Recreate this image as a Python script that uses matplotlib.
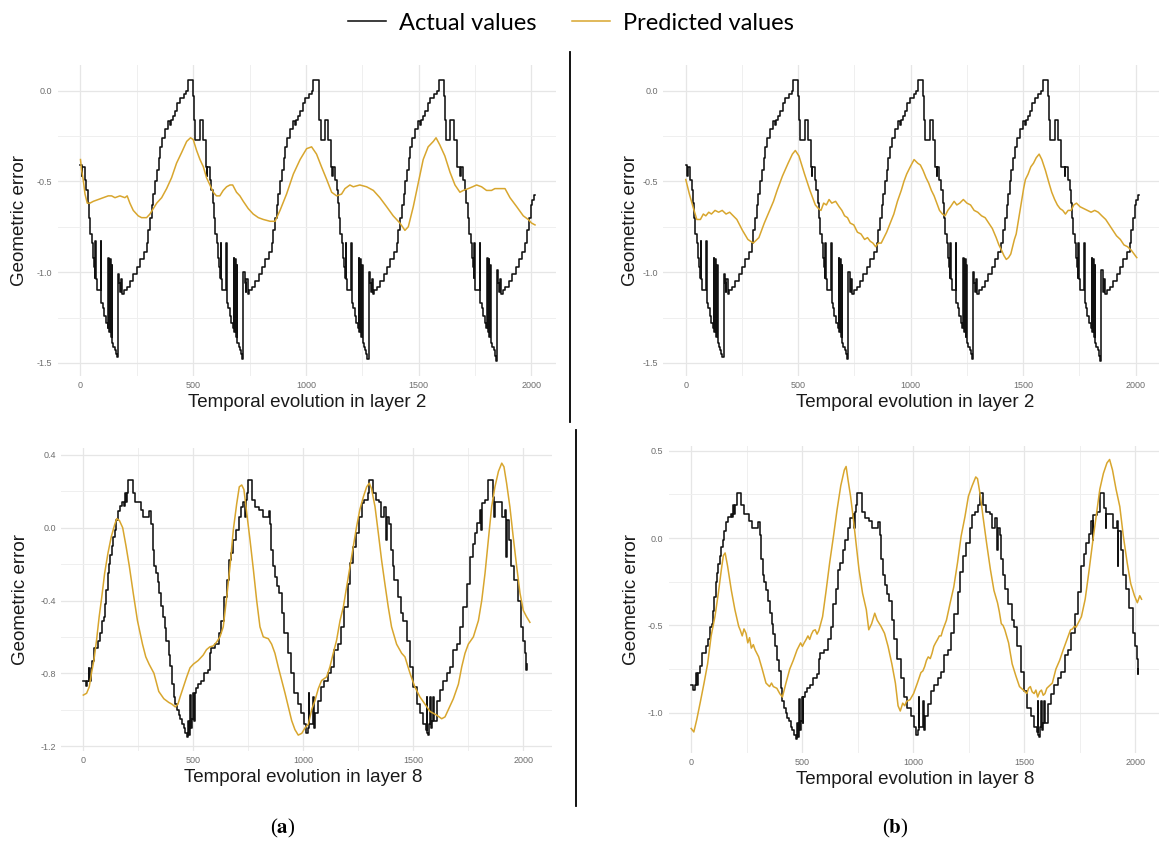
import matplotlib
matplotlib.use("Agg")
import matplotlib.pyplot as plt
from matplotlib.lines import Line2D
import numpy as np

# ---- data ----
# actual geometric error, layer 2 (same curve in panels a and b)
actual_l2 = [
    (0, -0.41), (5, -0.47), (8, -0.42), (18, -0.49), (26, -0.55), (32, -0.62), (38, -0.70), (43, -0.79),
    (50, -0.84), (55, -0.92), (60, -0.97), (64, -1.03), (66, -0.83), (69, -1.04), (72, -1.10), (90, -0.83),
    (93, -1.17), (100, -1.20), (106, -1.24), (113, -1.28), (120, -1.31), (124, -0.92), (127, -1.33),
    (131, -0.93), (134, -1.36), (138, -0.96), (141, -1.39), (146, -1.41), (152, -1.43), (158, -1.45),
    (163, -1.47), (168, -1.01), (173, -1.06), (177, -1.11), (181, -1.04), (186, -1.12), (192, -1.10),
    (205, -1.08), (220, -1.05), (235, -1.01), (250, -0.97), (265, -0.93), (280, -0.89), (293, -0.84),
    (300, -0.77), (308, -0.70), (316, -0.63), (323, -0.57), (331, -0.50), (338, -0.44), (346, -0.37),
    (353, -0.31), (362, -0.26), (375, -0.21), (388, -0.17), (396, -0.19), (402, -0.16), (410, -0.14),
    (420, -0.11), (430, -0.07), (442, -0.04), (458, -0.02), (470, 0.00), (478, 0.06), (497, 0.06),
    (501, -0.03), (505, -0.16), (510, -0.27), (531, -0.16), (545, -0.27),
    (555, -0.42), (560, -0.47), (563, -0.42), (573, -0.49), (581, -0.55), (587, -0.62), (593, -0.70),
    (598, -0.79), (605, -0.84), (610, -0.92), (615, -0.97), (619, -1.03), (621, -0.84), (624, -1.04),
    (627, -1.10), (645, -0.84), (648, -1.17), (655, -1.20), (661, -1.24), (668, -1.28), (675, -1.31),
    (679, -0.92), (682, -1.33), (686, -0.93), (689, -1.36), (693, -0.96), (696, -1.39), (701, -1.41),
    (707, -1.43), (713, -1.45), (718, -1.48), (723, -1.00), (728, -1.06), (732, -1.11), (736, -1.04),
    (741, -1.12), (747, -1.10), (760, -1.08), (775, -1.05), (790, -1.01), (805, -0.97), (820, -0.93),
    (835, -0.89), (848, -0.84), (855, -0.77), (863, -0.70), (871, -0.63), (878, -0.57), (886, -0.50),
    (893, -0.44), (901, -0.37), (908, -0.31), (917, -0.26), (930, -0.21), (943, -0.17), (951, -0.19),
    (957, -0.16), (965, -0.14), (975, -0.11), (985, -0.07), (997, -0.04), (1013, -0.02), (1025, 0.00),
    (1033, 0.06), (1052, 0.06), (1056, -0.03), (1060, -0.16), (1065, -0.27), (1086, -0.16), (1100, -0.27),
    (1110, -0.42), (1115, -0.47), (1118, -0.42), (1128, -0.49), (1136, -0.55), (1142, -0.62), (1148, -0.70),
    (1153, -0.79), (1160, -0.84), (1165, -0.92), (1170, -0.97), (1174, -1.03), (1176, -0.84), (1179, -1.04),
    (1182, -1.10), (1200, -0.84), (1203, -1.17), (1210, -1.20), (1216, -1.24), (1223, -1.28), (1230, -1.31),
    (1234, -0.92), (1237, -1.33), (1241, -0.93), (1244, -1.36), (1248, -0.96), (1251, -1.39), (1256, -1.41),
    (1262, -1.43), (1268, -1.45), (1273, -1.48), (1278, -1.00), (1283, -1.06), (1287, -1.11), (1291, -1.04),
    (1296, -1.12), (1302, -1.10), (1315, -1.08), (1330, -1.05), (1345, -1.01), (1360, -0.97), (1375, -0.93),
    (1390, -0.89), (1403, -0.84), (1410, -0.77), (1418, -0.70), (1426, -0.63), (1433, -0.57), (1441, -0.50),
    (1448, -0.44), (1456, -0.37), (1463, -0.31), (1472, -0.26), (1485, -0.21), (1498, -0.17), (1506, -0.19),
    (1512, -0.16), (1520, -0.14), (1530, -0.11), (1540, -0.07), (1552, -0.04), (1568, -0.02), (1580, 0.00),
    (1588, 0.06), (1607, 0.06), (1611, -0.03), (1615, -0.16), (1620, -0.27), (1641, -0.16), (1655, -0.27),
    (1668, -0.42), (1685, -0.47), (1688, -0.42), (1698, -0.49), (1706, -0.55), (1712, -0.62), (1718, -0.70),
    (1723, -0.79), (1730, -0.84), (1735, -0.92), (1740, -0.97), (1744, -1.03), (1746, -0.84), (1749, -1.04),
    (1752, -1.10), (1770, -0.84), (1773, -1.17), (1780, -1.20), (1786, -1.24), (1793, -1.28), (1800, -1.31),
    (1804, -0.92), (1807, -1.33), (1811, -0.93), (1814, -1.36), (1818, -0.96), (1821, -1.39), (1826, -1.41),
    (1832, -1.43), (1838, -1.46), (1843, -1.49), (1848, -0.99), (1853, -1.06), (1857, -1.11), (1861, -1.04),
    (1866, -1.12), (1872, -1.10), (1885, -1.08), (1900, -1.05), (1915, -1.01), (1930, -0.97), (1945, -0.93),
    (1960, -0.89), (1973, -0.84), (1980, -0.77), (1988, -0.70), (1996, -0.63), (2003, -0.60), (2010, -0.577),
    (2015, -0.577),
]

# predicted, layer 2, panel (a)
pred_l2_a = [
    (0, -0.38), (5, -0.44), (12, -0.49), (20, -0.57), (30, -0.62), (42, -0.62), (57, -0.61), (79, -0.60),
    (101, -0.59), (123, -0.58), (138, -0.58), (153, -0.59), (175, -0.58), (197, -0.59), (207, -0.58),
    (219, -0.62), (234, -0.66), (256, -0.69), (271, -0.70), (293, -0.70), (308, -0.68), (323, -0.65),
    (338, -0.62), (360, -0.59), (382, -0.54), (404, -0.48), (426, -0.40), (449, -0.34), (471, -0.28),
    (488, -0.26), (500, -0.27), (515, -0.33), (530, -0.38), (545, -0.42), (559, -0.48), (574, -0.52),
    (589, -0.56), (603, -0.58), (618, -0.58), (633, -0.55), (648, -0.53), (663, -0.52), (675, -0.52),
    (692, -0.56), (707, -0.58), (722, -0.61), (744, -0.65), (766, -0.68), (789, -0.70), (811, -0.71),
    (841, -0.72), (863, -0.72), (885, -0.66), (914, -0.57), (944, -0.46), (974, -0.38), (1003, -0.32),
    (1025, -0.31), (1047, -0.35), (1069, -0.42), (1092, -0.49), (1114, -0.56), (1136, -0.58), (1158, -0.57),
    (1173, -0.54), (1195, -0.52), (1210, -0.53), (1239, -0.52), (1269, -0.53), (1299, -0.55), (1328, -0.59),
    (1358, -0.64), (1387, -0.69), (1417, -0.73), (1439, -0.77), (1454, -0.75), (1476, -0.64), (1498, -0.51),
    (1520, -0.38), (1542, -0.31), (1565, -0.28), (1577, -0.26), (1594, -0.30), (1616, -0.36), (1639, -0.45),
    (1661, -0.52), (1683, -0.56), (1698, -0.55), (1720, -0.54), (1739, -0.53), (1757, -0.52), (1779, -0.53),
    (1801, -0.55), (1823, -0.55), (1838, -0.54), (1860, -0.54), (1883, -0.54), (1905, -0.59), (1935, -0.64),
    (1964, -0.69), (1986, -0.71), (2001, -0.73), (2016, -0.74),
]

# predicted, layer 2, panel (b)
pred_l2_b = [
    (0, -0.49), (16, -0.57), (32, -0.64), (49, -0.71), (65, -0.71), (78, -0.68), (89, -0.69), (102, -0.67),
    (114, -0.68), (130, -0.66), (146, -0.67), (162, -0.66), (179, -0.68), (195, -0.67), (211, -0.69),
    (227, -0.71), (252, -0.77), (276, -0.82), (300, -0.84), (325, -0.81), (349, -0.73), (373, -0.66),
    (390, -0.61), (406, -0.55), (430, -0.47), (455, -0.40), (474, -0.35), (487, -0.33), (503, -0.36),
    (528, -0.46), (552, -0.55), (576, -0.63), (590, -0.65), (601, -0.66), (613, -0.62), (625, -0.63),
    (637, -0.60), (649, -0.62), (666, -0.61), (682, -0.64), (694, -0.66), (706, -0.69), (719, -0.70),
    (731, -0.73), (747, -0.74), (763, -0.78), (779, -0.79), (795, -0.82), (808, -0.81), (820, -0.83),
    (832, -0.84), (844, -0.86), (856, -0.84), (869, -0.84), (893, -0.78), (909, -0.73), (925, -0.68),
    (941, -0.61), (958, -0.55), (970, -0.50), (982, -0.46), (998, -0.42), (1015, -0.38), (1031, -0.40),
    (1043, -0.41), (1055, -0.44), (1068, -0.48), (1080, -0.51), (1092, -0.55), (1104, -0.58), (1116, -0.62),
    (1128, -0.66), (1141, -0.68), (1153, -0.69), (1165, -0.66), (1177, -0.64), (1193, -0.61), (1205, -0.63),
    (1218, -0.62), (1234, -0.60), (1250, -0.62), (1266, -0.63), (1282, -0.66), (1298, -0.67), (1315, -0.69),
    (1331, -0.70), (1347, -0.73), (1363, -0.76), (1380, -0.81), (1392, -0.85), (1404, -0.88), (1415, -0.91),
    (1425, -0.93), (1435, -0.92), (1445, -0.90), (1453, -0.86), (1461, -0.82), (1469, -0.79), (1477, -0.73),
    (1486, -0.66), (1494, -0.60), (1502, -0.54), (1510, -0.49), (1522, -0.46), (1534, -0.42), (1546, -0.40),
    (1558, -0.37), (1571, -0.35), (1583, -0.38), (1599, -0.44), (1615, -0.51), (1627, -0.56), (1640, -0.60),
    (1652, -0.63), (1664, -0.65), (1676, -0.66), (1688, -0.68), (1700, -0.66), (1713, -0.66), (1725, -0.63),
    (1737, -0.62), (1753, -0.64), (1769, -0.65), (1785, -0.66), (1802, -0.67), (1818, -0.66), (1834, -0.67),
    (1850, -0.69), (1867, -0.71), (1883, -0.74), (1899, -0.77), (1915, -0.80), (1932, -0.82), (1948, -0.85),
    (1964, -0.86), (1981, -0.88), (1993, -0.90), (2005, -0.92),
]

# actual geometric error, layer 8 (same curve in panels a and b)
actual_l8 = [
    (0, -0.84), (10, -0.87), (16, -0.84), (24, -0.77), (28, -0.84), (33, -0.77), (40, -0.73), (48, -0.66),
    (66, -0.62), (76, -0.58), (84, -0.51), (92, -0.49), (98, -0.42), (104, -0.34), (110, -0.25), (118, -0.20),
    (123, -0.15), (130, -0.10), (136, -0.05), (142, -0.01), (149, 0.04), (158, 0.09), (168, 0.12),
    (178, 0.14), (184, 0.12), (188, 0.19), (194, 0.14), (199, 0.19), (205, 0.26), (226, 0.19), (236, 0.14),
    (262, 0.10), (272, 0.06), (300, 0.09), (308, 0.02), (315, -0.12), (322, -0.21), (330, -0.25),
    (338, -0.30), (346, -0.36), (354, -0.43), (362, -0.49), (370, -0.55), (378, -0.62), (388, -0.70),
    (396, -0.76), (404, -0.86), (411, -0.93), (418, -0.97), (425, -1.00), (433, -1.03), (440, -1.05),
    (448, -1.08), (456, -1.10), (463, -1.13), (470, -1.15), (475, -1.12), (478, -1.06), (482, -1.14),
    (486, -0.92), (489, -1.10), (494, -1.05), (498, -0.91), (502, -1.06), (506, -0.91), (514, -0.88),
    (522, -0.86), (536, -0.84), (550, -0.80), (565, -0.78), (574, -0.69), (582, -0.66), (600, -0.64),
    (615, -0.58), (628, -0.51), (640, -0.38), (651, -0.29), (661, -0.18), (671, -0.14), (682, -0.07),
    (694, -0.01), (706, 0.06), (717, 0.115), (727, 0.14), (735, 0.06), (738, 0.15), (742, 0.19), (748, 0.26),
    (768, 0.15), (782, 0.115), (800, 0.10), (815, 0.06), (842, 0.09), (850, 0.02), (855, -0.12), (863, -0.21),
    (872, -0.27), (880, -0.32), (891, -0.36), (903, -0.47), (914, -0.58), (929, -0.69), (944, -0.80),
    (959, -0.91), (974, -0.97), (990, -1.02), (1005, -1.08), (1012, -1.13), (1020, -1.10), (1025, -0.91),
    (1028, -1.08), (1043, -0.93), (1047, -1.10), (1053, -1.02), (1065, -0.95), (1080, -0.875), (1095, -0.84),
    (1111, -0.80), (1126, -0.765), (1141, -0.67), (1156, -0.64), (1171, -0.545), (1186, -0.435), (1201, -0.31),
    (1212, -0.195), (1224, -0.105), (1239, -0.03), (1254, 0.06), (1267, 0.135), (1277, 0.15), (1292, 0.19),
    (1300, 0.26), (1315, 0.19), (1330, 0.15), (1345, 0.14), (1353, 0.06), (1368, 0.115), (1378, -0.07),
    (1382, 0.06), (1391, 0.02), (1398, -0.12), (1406, -0.21), (1413, -0.29), (1429, -0.38), (1444, -0.47),
    (1455, -0.51), (1470, -0.62), (1485, -0.765), (1500, -0.875), (1515, -0.97), (1530, -1.02), (1545, -1.08),
    (1557, -1.11), (1561, -0.93), (1564, -1.13), (1568, -1.14), (1572, -1.08), (1576, -0.93), (1580, -1.10),
    (1587, -1.06), (1591, -0.93), (1595, -1.06), (1606, -0.95), (1621, -0.89), (1636, -0.84), (1652, -0.80),
    (1667, -0.765), (1682, -0.67), (1697, -0.64), (1712, -0.545), (1727, -0.435), (1742, -0.31), (1758, -0.16),
    (1770, -0.09), (1780, -0.03), (1791, 0.025), (1803, 0.10), (1809, -0.01), (1812, 0.135), (1826, 0.15),
    (1841, 0.26), (1861, 0.17), (1867, 0.06), (1871, 0.14), (1902, 0.06), (1917, 0.10), (1922, -0.16),
    (1925, 0.04), (1936, -0.07), (1944, -0.21), (1959, -0.29), (1974, -0.40), (1989, -0.545), (2000, -0.62),
    (2009, -0.69), (2013, -0.78), (2015, -0.75),
]

# predicted, layer 8, panel (a)
pred_l8_a = [
    (0, -0.92), (15, -0.91), (27, -0.875), (37, -0.80), (48, -0.73), (60, -0.62), (72, -0.49), (84, -0.38),
    (97, -0.25), (112, -0.14), (127, -0.05), (142, 0.015), (152, 0.05), (164, 0.04), (179, 0.0), (194, -0.10),
    (209, -0.21), (227, -0.36), (246, -0.51), (269, -0.64), (284, -0.71), (299, -0.75), (321, -0.80),
    (343, -0.90), (366, -0.94), (388, -0.96), (403, -0.97), (418, -0.985), (430, -0.97), (440, -0.93),
    (455, -0.875), (470, -0.82), (485, -0.77), (500, -0.75), (522, -0.73), (545, -0.70), (560, -0.67),
    (575, -0.655), (590, -0.65), (605, -0.63), (621, -0.60), (636, -0.545), (652, -0.38), (667, -0.21),
    (682, -0.01), (697, 0.13), (709, 0.225), (720, 0.235), (730, 0.21), (743, 0.08), (758, -0.07),
    (773, -0.23), (788, -0.40), (803, -0.545), (818, -0.60), (841, -0.61), (856, -0.64), (871, -0.69),
    (886, -0.765), (902, -0.84), (917, -0.91), (932, -0.985), (947, -1.06), (962, -1.11), (977, -1.14),
    (993, -1.13), (1008, -1.10), (1023, -1.08), (1038, -1.00), (1053, -0.95), (1068, -0.885), (1083, -0.84),
    (1106, -0.82), (1121, -0.765), (1136, -0.69), (1151, -0.62), (1167, -0.51), (1182, -0.435), (1197, -0.325),
    (1212, -0.215), (1227, -0.105), (1242, 0.005), (1257, 0.10), (1273, 0.17), (1288, 0.225), (1300, 0.245),
    (1310, 0.215), (1326, 0.115), (1341, -0.03), (1356, -0.18), (1371, -0.31), (1386, -0.435), (1401, -0.545),
    (1424, -0.64), (1447, -0.69), (1462, -0.71), (1485, -0.80), (1507, -0.875), (1530, -0.93), (1553, -0.97),
    (1576, -1.01), (1606, -1.03), (1629, -1.05), (1644, -1.04), (1659, -1.00), (1682, -0.94), (1705, -0.86),
    (1720, -0.765), (1735, -0.69), (1750, -0.64), (1773, -0.60), (1796, -0.51), (1811, -0.40), (1826, -0.25),
    (1841, -0.07), (1856, 0.115), (1871, 0.225), (1887, 0.31), (1902, 0.355), (1912, 0.335), (1924, 0.245),
    (1939, 0.115), (1954, -0.05), (1970, -0.215), (1985, -0.36), (2000, -0.455), (2015, -0.49), (2030, -0.52),
]

# predicted, layer 8, panel (b)
pred_l8_b = [
    (0, -1.09), (12, -1.11), (25, -1.04), (41, -0.94), (58, -0.83), (74, -0.72), (90, -0.56), (107, -0.45),
    (123, -0.31), (136, -0.18), (145, -0.10), (153, -0.085), (164, -0.16), (181, -0.30), (197, -0.41),
    (214, -0.505), (222, -0.53), (230, -0.56), (238, -0.52), (247, -0.545), (255, -0.60), (263, -0.57),
    (271, -0.63), (280, -0.61), (288, -0.64), (296, -0.66), (304, -0.68), (320, -0.75), (337, -0.83),
    (353, -0.85), (362, -0.83), (370, -0.85), (386, -0.86), (399, -0.89), (411, -0.91), (427, -0.83),
    (444, -0.75), (460, -0.70), (477, -0.64), (485, -0.62), (493, -0.60), (501, -0.62), (509, -0.60),
    (518, -0.58), (526, -0.56), (534, -0.58), (542, -0.55), (550, -0.53), (559, -0.525), (567, -0.55),
    (575, -0.53), (592, -0.45), (608, -0.30), (624, -0.14), (641, 0.01), (657, 0.16), (674, 0.30), (690, 0.39),
    (698, 0.41), (707, 0.33), (718, 0.24), (731, 0.105), (743, -0.03), (756, -0.18), (772, -0.315),
    (789, -0.41), (800, -0.525), (813, -0.49), (827, -0.43), (838, -0.47), (855, -0.505), (871, -0.545),
    (887, -0.62), (904, -0.72), (920, -0.83), (932, -0.96), (942, -0.99), (953, -0.945), (962, -0.96),
    (970, -0.935), (986, -0.925), (1002, -0.89), (1019, -0.83), (1035, -0.77), (1044, -0.76), (1052, -0.735),
    (1060, -0.70), (1068, -0.68), (1077, -0.69), (1085, -0.66), (1093, -0.62), (1101, -0.60), (1110, -0.58),
    (1118, -0.56), (1126, -0.56), (1134, -0.525), (1150, -0.47), (1167, -0.37), (1183, -0.28), (1200, -0.14),
    (1216, 0.01), (1233, 0.12), (1249, 0.24), (1266, 0.30), (1282, 0.35), (1290, 0.34), (1303, 0.24),
    (1315, 0.12), (1331, -0.03), (1348, -0.18), (1364, -0.30), (1380, -0.37), (1388, -0.42), (1397, -0.49),
    (1405, -0.50), (1413, -0.525), (1421, -0.56), (1430, -0.60), (1446, -0.72), (1463, -0.79), (1479, -0.85),
    (1496, -0.87), (1512, -0.89), (1520, -0.86), (1528, -0.85), (1536, -0.88), (1545, -0.89), (1553, -0.87),
    (1561, -0.91), (1570, -0.88), (1578, -0.87), (1586, -0.90), (1594, -0.89), (1602, -0.86), (1610, -0.85),
    (1627, -0.83), (1643, -0.75), (1660, -0.70), (1676, -0.64), (1693, -0.58), (1709, -0.525), (1718, -0.52),
    (1726, -0.505), (1734, -0.51), (1742, -0.49), (1758, -0.45), (1775, -0.35), (1791, -0.20), (1808, -0.03),
    (1824, 0.12), (1841, 0.28), (1857, 0.37), (1873, 0.43), (1885, 0.45), (1898, 0.39), (1914, 0.28),
    (1931, 0.18), (1947, 0.01), (1964, -0.14), (1980, -0.26), (1997, -0.33), (2010, -0.37), (2021, -0.33),
    (2029, -0.35),
]

x_ticks = [0, 500, 1000, 1500, 2000]
x_tick_labels = ["0", "500", "1000", "1500", "2000"]
x_minor = [250, 750, 1250, 1750]

y_ticks_l2 = [0.0, -0.5, -1.0, -1.5]
y_labels_l2 = ["0.0", "-0.5", "-1.0", "-1.5"]
y_minor_l2 = [-0.25, -0.75, -1.25]

y_ticks_l8a = [0.4, 0.0, -0.4, -0.8, -1.2]
y_labels_l8a = ["0.4", "0.0", "-0.4", "-0.8", "-1.2"]
y_minor_l8a = [0.2, -0.2, -0.6, -1.0]

y_ticks_l8b = [0.5, 0.0, -0.5, -1.0]
y_labels_l8b = ["0.5", "0.0", "-0.5", "-1.0"]
y_minor_l8b = [0.25, -0.25, -0.75]

BLACK = "#111111"
GOLD = "#D8A62E"
LABEL_FONT = "Liberation Sans"


def style_axes(ax, xlim, ylim, yt, ylabels, yminor, xlabel, ylab_x, xlab_pos):
    ax.set_xlim(*xlim)
    ax.set_ylim(*ylim)
    ax.set_xticks(x_ticks)
    ax.set_xticklabels(x_tick_labels)
    ax.set_xticks(x_minor, minor=True)
    ax.set_yticks(yt)
    ax.set_yticklabels(ylabels)
    ax.set_yticks(yminor, minor=True)
    ax.grid(which="major", color="#E6E6E6", lw=0.9)
    ax.grid(which="minor", color="#EFEFEF", lw=0.7)
    ax.set_axisbelow(True)
    for s in ax.spines.values():
        s.set_visible(False)
    ax.tick_params(which="both", length=0, labelsize=6.5, labelcolor="#6E6E6E", pad=4)
    for t in ax.get_xticklabels() + ax.get_yticklabels():
        t.set_family(LABEL_FONT)
    ax.set_ylabel("Geometric error", fontsize=13.5, family=LABEL_FONT, color="#1A1A1A", va="center")
    ax.yaxis.set_label_coords(ylab_x, 0.5)
    ax.set_xlabel(xlabel, fontsize=13.5, family=LABEL_FONT, color="#1A1A1A", va="center")
    ax.xaxis.set_label_coords(*xlab_pos)


fig = plt.figure(figsize=(11.59, 8.46), dpi=100)

ax_a2 = fig.add_axes([0.0500, 0.5560, 0.4299, 0.3670])
ax_b2 = fig.add_axes([0.5723, 0.5560, 0.4283, 0.3670])
ax_a8 = fig.add_axes([0.0529, 0.1128, 0.4233, 0.3580])
ax_b8 = fig.add_axes([0.5772, 0.1100, 0.4271, 0.3634])

panels = [
    (ax_a2, actual_l2, pred_l2_a), (ax_b2, actual_l2, pred_l2_b),
    (ax_a8, actual_l8, pred_l8_a), (ax_b8, actual_l8, pred_l8_b),
]
for ax, act, pred in panels:
    ax_x, ax_y = np.array(act).T
    p_x, p_y = np.array(pred).T
    ax.plot(ax_x, ax_y, color=BLACK, lw=1.15, drawstyle="steps-post", label="Actual values")
    ax.plot(p_x, p_y, color=GOLD, lw=1.1, label="Predicted values")

style_axes(ax_a2, (-100, 2110), (-1.57, 0.14), y_ticks_l2, y_labels_l2, y_minor_l2,
           "Temporal evolution in layer 2", -0.0763, (0.5, -0.088))
style_axes(ax_b2, (-100, 2107), (-1.57, 0.14), y_ticks_l2, y_labels_l2, y_minor_l2,
           "Temporal evolution in layer 2", -0.067, (0.507, -0.088))
style_axes(ax_a8, (-100, 2130), (-1.225, 0.44), y_ticks_l8a, y_labels_l8a, y_minor_l8a,
           "Temporal evolution in layer 8", -0.0842, (0.493, -0.090))
style_axes(ax_b8, (-100, 2130), (-1.23, 0.53), y_ticks_l8b, y_labels_l8b, y_minor_l8b,
           "Temporal evolution in layer 8", -0.0747, (0.497, -0.088))

# shared legend on top
handles, labels = ax_a2.get_legend_handles_labels()
fig.legend(handles, labels, loc="center", bbox_to_anchor=(571 / 1159, 1 - 23 / 846), ncol=2,
           frameon=False, prop={"family": "Lato", "size": 17}, handlelength=1.6,
           handletextpad=0.55, columnspacing=1.5)

# divider lines between columns
fig.add_artist(Line2D([570 / 1159, 570 / 1159], [1 - 52 / 846, 1 - 422 / 846], color="black", lw=1.3))
fig.add_artist(Line2D([576 / 1159, 576 / 1159], [1 - 430 / 846, 1 - 806 / 846], color="black", lw=1.3))

# sub-figure captions
plt.rcParams["mathtext.fontset"] = "stix"
fig.text(283 / 1159, 1 - 828 / 846, r"($\mathbf{a}$)", ha="center", va="center", fontsize=15,
         family="Liberation Serif")
fig.text(895 / 1159, 1 - 828 / 846, r"($\mathbf{b}$)", ha="center", va="center", fontsize=15,
         family="Liberation Serif")

fig.savefig("out.png", dpi=100)
